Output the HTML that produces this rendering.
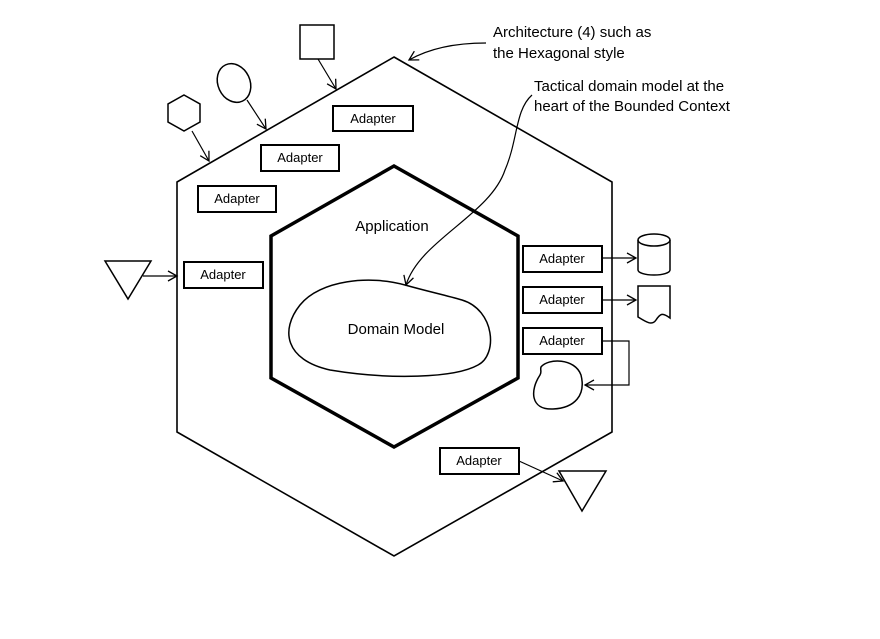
<!DOCTYPE html>
<html><head><meta charset="utf-8"><style>
html,body{margin:0;padding:0;background:#fff;}
svg{display:block;}
.ad{font-family:"Liberation Sans",sans-serif;font-size:13px;}
.lb{font-family:"Liberation Sans",sans-serif;font-size:15px;}
</style></head><body>
<svg width="880" height="639" viewBox="0 0 880 639" xmlns="http://www.w3.org/2000/svg">
<defs>
<marker id="ar" markerWidth="12" markerHeight="12" refX="10" refY="6" orient="auto" markerUnits="userSpaceOnUse">
<path d="M1,1 L10,6 L1,11" fill="none" stroke="#000" stroke-width="1.3"/>
</marker>
</defs>
<g fill="none" stroke="#000">
<polygon points="394,57 612,182 612,432 394,556 177,432 177,182" stroke-width="1.6"/>
<polygon points="394,166 518,236 518,378 394,447 271,378 271,236" stroke-width="3.5"/>
<path d="M405,285 C430,292 445,295 462,300 C495,310 498,355 478,365 C455,378 390,380 330,370 C285,360 280,330 300,305 C320,280 370,275 405,285 Z" stroke-width="1.5"/>
<rect x="300" y="25" width="34" height="34" stroke-width="1.5"/>
<ellipse cx="234" cy="83" rx="16" ry="20" transform="rotate(-25 234 83)" stroke-width="1.5"/>
<polygon points="184,95 200,104 200,122 184,131 168,122 168,104" stroke-width="1.5"/>
<path d="M318,59 L336,89" stroke-width="1.2" marker-end="url(#ar)"/>
<path d="M247,100 L266,129" stroke-width="1.2" marker-end="url(#ar)"/>
<path d="M192,131 L209,161" stroke-width="1.2" marker-end="url(#ar)"/>
<polygon points="105,261 151,261 128,299" stroke-width="1.5"/>
<path d="M143,276 L177,276" stroke-width="1.2" marker-end="url(#ar)"/>
<path d="M638,240 L638,270 A16,5 0 0 0 670,270 L670,240" stroke-width="1.5"/>
<ellipse cx="654" cy="240" rx="16" ry="6" stroke-width="1.5"/>
<path d="M638,286 L670,286 L670,318 C662,312 660,314 656,320 C652,326 646,322 638,317 Z" stroke-width="1.5"/>
<path d="M602,258 L636,258" stroke-width="1.2" marker-end="url(#ar)"/>
<path d="M602,300 L636,300" stroke-width="1.2" marker-end="url(#ar)"/>
<path d="M602,341 L629,341 L629,385 L585,385" stroke-width="1.2" marker-end="url(#ar)"/>
<path d="M541,367 C548,358 575,358 581,375 C586,395 575,408 553,409 C530,410 530,390 540,375 C542,372 540,370 541,367 Z" stroke-width="1.5"/>
<polygon points="559,471 606,471 582,511" stroke-width="1.5"/>
<path d="M519,461 L563,481" stroke-width="1.2" marker-end="url(#ar)"/>
<path d="M486,43 C455,43 430,48 409,60" stroke-width="1.2" marker-end="url(#ar)"/>
<path d="M532,95 C515,110 518,140 505,170 C490,215 420,240 406,285" stroke-width="1.2" marker-end="url(#ar)"/>
<g stroke-width="2" fill="#fff">
<rect x="333" y="106" width="80" height="25"/>
<rect x="261" y="145" width="78" height="26"/>
<rect x="198" y="186" width="78" height="26"/>
<rect x="184" y="262" width="79" height="26"/>
<rect x="523" y="246" width="79" height="26"/>
<rect x="523" y="287" width="79" height="26"/>
<rect x="523" y="328" width="79" height="26"/>
<rect x="440" y="448" width="79" height="26"/>
</g>
</g>
<g class="ad" text-anchor="middle" fill="#000">
<text x="373" y="123">Adapter</text>
<text x="300" y="162">Adapter</text>
<text x="237" y="203">Adapter</text>
<text x="223" y="279">Adapter</text>
<text x="562" y="263">Adapter</text>
<text x="562" y="304">Adapter</text>
<text x="562" y="345">Adapter</text>
<text x="479" y="465">Adapter</text>
</g>
<text x="392" y="231" text-anchor="middle" class="lb" fill="#000" font-size="16">Application</text>
<text x="396" y="334" text-anchor="middle" class="lb" fill="#000">Domain Model</text>
<g class="lb" fill="#000" font-size="15">
<text x="493" y="37">Architecture (4) such as</text>
<text x="493" y="58">the Hexagonal style</text>
<text x="534" y="91">Tactical domain model at the</text>
<text x="534" y="111">heart of the Bounded Context</text>
</g>
</svg>
</body></html>
